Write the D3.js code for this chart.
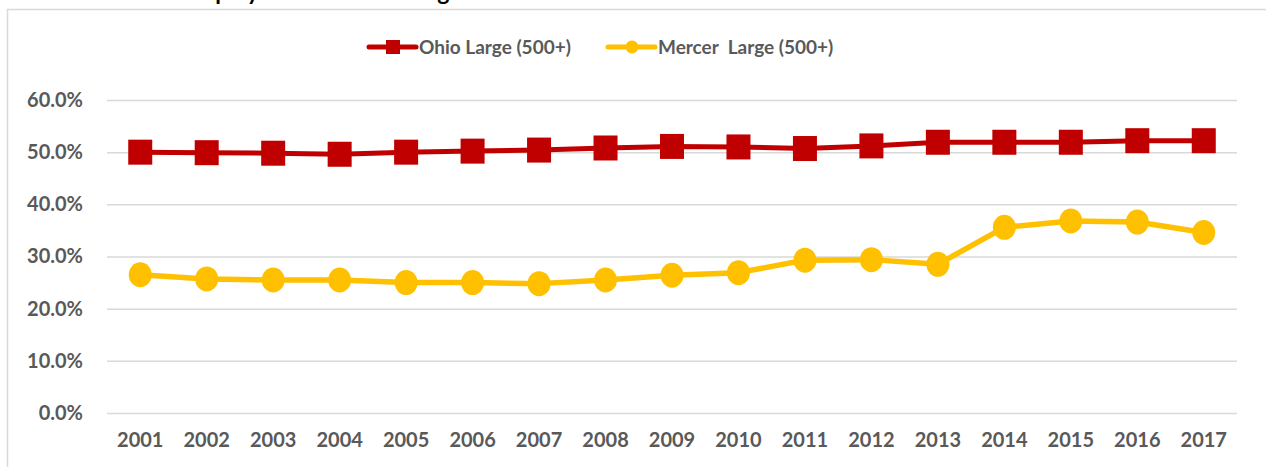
<!DOCTYPE html>
<html>
<head>
<meta charset="utf-8">
<script src="https://cdn.jsdelivr.net/npm/d3@7/dist/d3.min.js"></script>
<style>
  html, body { margin: 0; padding: 0; background: #fff; }
  svg { display: block; font-family: Lato, "Open Sans", sans-serif; }
</style>
</head>
<body>
<svg id="chart" width="1266" height="467"></svg>
<script>
"use strict";

const YEARS = ["2001", "2002", "2003", "2004", "2005", "2006", "2007", "2008", "2009", "2010", "2011", "2012", "2013", "2014", "2015", "2016", "2017"];
const OHIO_LARGE = [50.0, 49.9, 49.8, 49.6, 50.0, 50.2, 50.4, 50.8, 51.1, 51.0, 50.7, 51.2, 51.9, 51.9, 51.9, 52.2, 52.2];
const MERCER_LARGE = [26.5, 25.7, 25.5, 25.5, 25.0, 25.0, 24.8, 25.5, 26.4, 26.9, 29.3, 29.4, 28.5, 35.6, 36.8, 36.6, 34.6];
const Y_TICKS = [0, 10, 20, 30, 40, 50, 60];
const SERIES_NAMES = ["Ohio Large (500+)", "Mercer  Large (500+)"];
const TITLE = "Employment Share in Large Establishments";

const RED = "#c00000";
const GOLD = "#ffc000";
const GRID = "#d9d9d9";
const TEXT = "#595959";

const svg = d3.select("#chart");

// title sits above the crop, only its descenders show
svg.append("text").attr("x", 183).attr("y", -0.5).attr("font-size", 23).attr("font-weight", 700).attr("fill", "#000").text(TITLE);

// chart area frame (cropped on right/bottom)
svg.append("rect").attr("x", 7.5).attr("y", 9.5).attr("width", 1300).attr("height", 500).attr("fill", "#fff").attr("stroke", GRID).attr("stroke-width", 1.5);

const plot = { left: 107, right: 1237, top: 100, bottom: 413 };
const x = d3.scaleBand().domain(YEARS).range([plot.left, plot.right]);
const y = d3.scaleLinear().domain([0, 60]).range([plot.bottom, plot.top]);
const cx = function (d) { return x(d) + x.bandwidth() / 2; };

// grid lines + y labels
const yAxis = d3.axisLeft(y).tickValues(Y_TICKS).tickSize(-(plot.right - plot.left)).tickPadding(24).tickFormat(function (d) { return d.toFixed(1) + "%"; });
const yg = svg.append("g").attr("transform", "translate(" + plot.left + ",0)").call(yAxis);
yg.select(".domain").remove();
yg.selectAll(".tick line").attr("stroke", GRID).attr("stroke-width", 1.5);
yg.selectAll(".tick text").attr("fill", TEXT).attr("font-size", 20).attr("font-weight", 700).attr("font-family", "Lato, sans-serif");

// x labels
const xAxis = d3.axisBottom(x).tickSize(0).tickPadding(20);
const xg = svg.append("g").attr("transform", "translate(0," + plot.bottom + ")").call(xAxis);
xg.select(".domain").remove();
xg.selectAll(".tick text").attr("fill", TEXT).attr("font-size", 20).attr("font-weight", 700).attr("font-family", "Lato, sans-serif");

function drawSeries(values, color, width) {
  const pts = YEARS.map(function (yr, i) { return { year: yr, value: values[i] }; });
  const line = d3.line().x(function (d) { return cx(d.year); }).y(function (d) { return y(d.value); });
  svg.append("path").datum(pts).attr("d", line).attr("fill", "none").attr("stroke", color).attr("stroke-width", width).attr("stroke-linejoin", "round");
  return pts;
}

const ohioPts = drawSeries(OHIO_LARGE, RED, 5);
svg.append("g").selectAll("rect").data(ohioPts).join("rect")
  .attr("x", function (d) { return cx(d.year) - 12; })
  .attr("y", function (d) { return y(d.value) - 12.5; })
  .attr("width", 24).attr("height", 25).attr("fill", RED);

const mercerPts = drawSeries(MERCER_LARGE, GOLD, 5.5);
svg.append("g").selectAll("ellipse").data(mercerPts).join("ellipse")
  .attr("cx", function (d) { return cx(d.year); })
  .attr("cy", function (d) { return y(d.value); })
  .attr("rx", 11.5).attr("ry", 12.5).attr("fill", GOLD);

// legend
const legend = svg.append("g");
const lg1 = legend.append("g");
lg1.append("line").attr("x1", 369).attr("x2", 416).attr("y1", 47).attr("y2", 47).attr("stroke", RED).attr("stroke-width", 5).attr("stroke-linecap", "round");
lg1.append("rect").attr("x", 386).attr("y", 40).attr("width", 14).attr("height", 14).attr("fill", RED);
lg1.append("text").attr("x", 419).attr("y", 54).attr("font-size", 19).attr("font-weight", 700).attr("fill", TEXT).style("white-space", "pre").text(SERIES_NAMES[0]);

const lg2 = legend.append("g");
lg2.append("line").attr("x1", 608).attr("x2", 655).attr("y1", 47).attr("y2", 47).attr("stroke", GOLD).attr("stroke-width", 5).attr("stroke-linecap", "round");
lg2.append("circle").attr("cx", 632).attr("cy", 47).attr("r", 6.5).attr("fill", GOLD);
lg2.append("text").attr("x", 658).attr("y", 54).attr("font-size", 19).attr("font-weight", 700).attr("fill", TEXT).style("white-space", "pre").text(SERIES_NAMES[1]);
</script>
</body>
</html>
